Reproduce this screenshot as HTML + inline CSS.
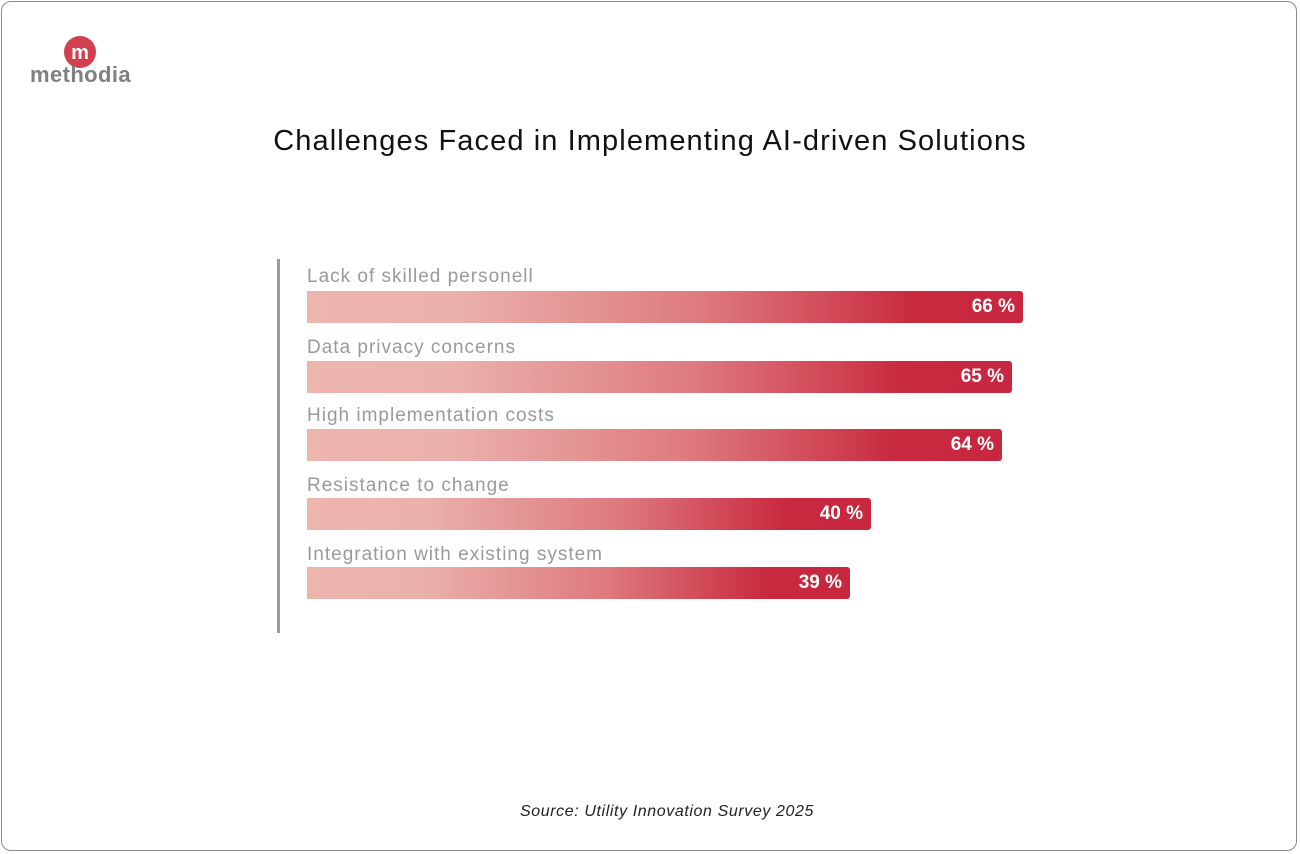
<!DOCTYPE html>
<html><head><style>
body{margin:0;width:1300px;height:854px;background:#fff;font-family:"Liberation Sans",sans-serif;}
.frame{position:absolute;left:1px;top:1px;width:1296px;height:850px;border:1px solid #8a8a8a;border-radius:10px;box-sizing:border-box;}
.title{position:absolute;left:0;width:1300px;top:125px;text-align:center;font-size:29px;letter-spacing:1.1px;color:#111;}
.axis{position:absolute;left:277px;top:259px;width:3px;height:374px;background:#9b9b9b;}
.lab{position:absolute;left:307px;font-size:19px;letter-spacing:1px;color:#9a9a9a;}
.bar{position:absolute;left:307px;height:32px;border-radius:0 3px 3px 0;background:linear-gradient(90deg,#edb5ae 0%,#ebb2ac 20%,#de7a7e 55%,#c8293f 85%,#c8283f 100%);color:#fff;font-weight:bold;font-size:19px;text-align:right;line-height:32px;box-sizing:border-box;padding-right:8px;}
.src{position:absolute;left:17px;width:1300px;top:803px;text-align:center;font-style:italic;font-size:16px;letter-spacing:0.6px;color:#222;}
</style></head><body>
<div class="frame"></div>
<svg style="position:absolute;left:28px;top:35px" width="110" height="55">
<circle cx="52" cy="17" r="16" fill="#d0404f"/>
<text x="52" y="24" text-anchor="middle" font-family="Liberation Sans" font-weight="bold" font-size="20" fill="#fff">m</text>
<text x="2" y="47" font-family="Liberation Sans" font-weight="bold" font-size="22" letter-spacing="0.4" fill="#808080">methodia</text>
</svg>
<div class="title">Challenges Faced in Implementing AI-driven Solutions</div>
<div class="axis"></div>
<div class="lab" style="top:266px">Lack of skilled personell</div>
<div class="bar" style="top:291px;width:716px">66 %</div>
<div class="lab" style="top:337px">Data privacy concerns</div>
<div class="bar" style="top:361px;width:705px">65 %</div>
<div class="lab" style="top:405px">High implementation costs</div>
<div class="bar" style="top:429px;width:695px">64 %</div>
<div class="lab" style="top:475px">Resistance to change</div>
<div class="bar" style="top:498px;width:564px">40 %</div>
<div class="lab" style="top:544px">Integration with existing system</div>
<div class="bar" style="top:567px;width:543px">39 %</div>
<div class="src">Source: Utility Innovation Survey 2025</div>
</body></html>
